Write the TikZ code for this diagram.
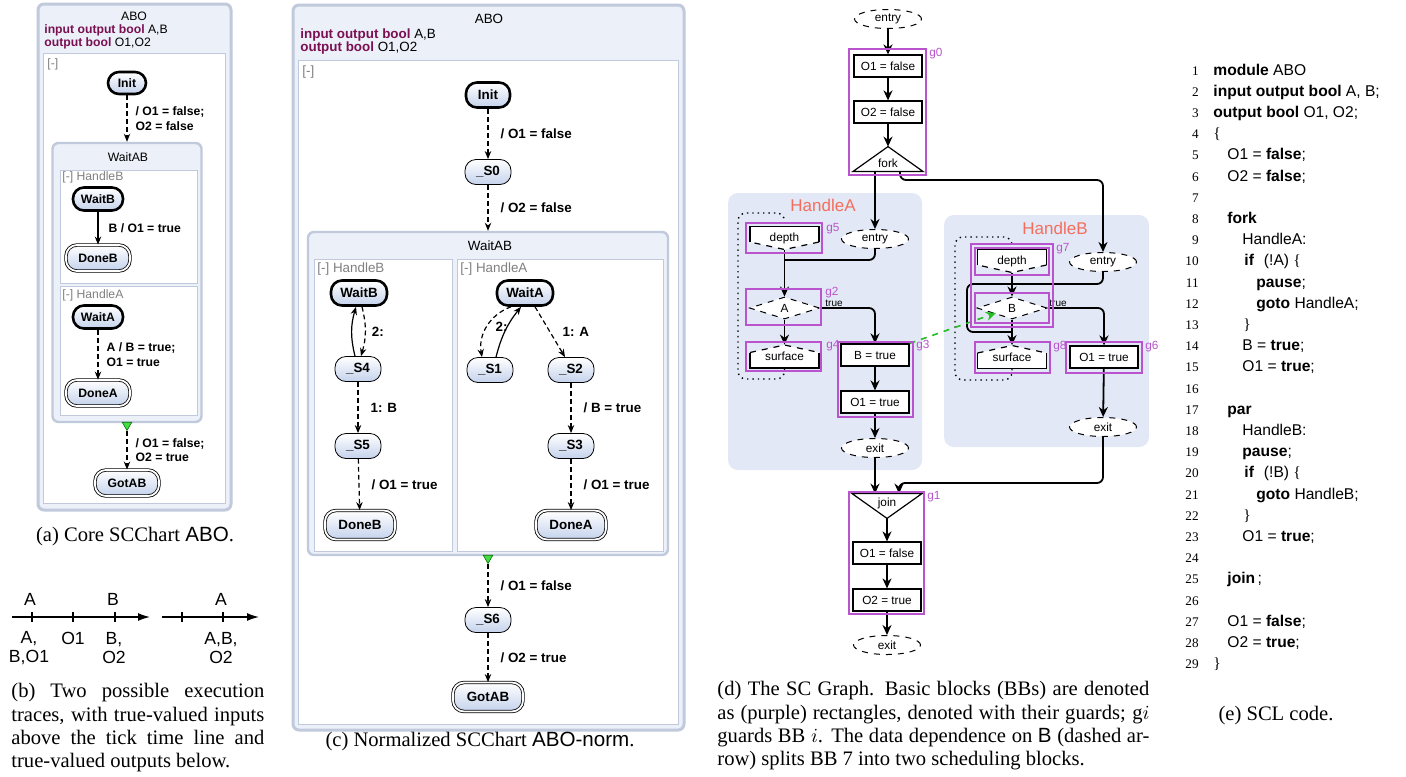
\documentclass[tikz,border=0pt]{standalone}
\usepackage{fontspec}
\setmainfont{Liberation Serif}
\setsansfont{Liberation Sans}
\usepackage{tikz}
\usetikzlibrary{arrows.meta,positioning,calc,shapes.geometric}

\definecolor{stateblue}{RGB}{196,210,236}
\definecolor{chartbg}{RGB}{236,240,248}
\definecolor{chartedge}{RGB}{192,202,220}
\definecolor{keyword}{RGB}{122,16,82}
\definecolor{bbpurple}{RGB}{186,84,206}
\definecolor{threadbg}{RGB}{226,232,245}
\definecolor{threadname}{RGB}{244,110,94}
\definecolor{depgreen}{RGB}{34,190,34}
\definecolor{termgreen}{RGB}{70,220,70}

\newcommand{\chartfont}{\sffamily\fontsize{6.7}{7.6}\selectfont}
\newcommand{\graphfont}{\sffamily\fontsize{5.9}{7}\selectfont}
% depth and surface nodes of the SC graph
\newcommand{\depthnode}[4]{%
  \begin{scope}[shift={(#2,#3)}]
    \fill[white] (-34.5,-11.5) -- (34.5,-11.5) -- (34.5,4) -- (0,11.5) -- (-34.5,4) -- cycle;
    \draw[line width=0.6pt] (-34.5,4) -- (-34.5,-11.5) -- (34.5,-11.5) -- (34.5,4);
    \draw[line width=0.6pt,dashed] (34.5,4) -- (0,11.5) -- (-34.5,4);
  \end{scope}
  \node[surf] (#1) at (#2,#3) {#4};}
\newcommand{\surfacenode}[4]{%
  \begin{scope}[shift={(#2,#3)}]
    \fill[white] (-34.5,-4) -- (0,-11.5) -- (34.5,-4) -- (34.5,11.5) -- (-34.5,11.5) -- cycle;
    \draw[line width=0.6pt] (34.5,-4) -- (34.5,11.5) -- (-34.5,11.5) -- (-34.5,-4);
    \draw[line width=0.6pt,dashed] (-34.5,-4) -- (0,-11.5) -- (34.5,-4);
  \end{scope}
  \node[surf] (#1) at (#2,#3) {#4};}

\begin{document}
\begin{tikzpicture}[x=0.5pt,y=-0.5pt,
    chart/.style={rectangle,rounded corners=3pt,draw=chartedge,line width=1.5pt,fill=chartbg},
    region/.style={rectangle,draw=chartedge,fill=white,line width=0.5pt},
    superstate/.style={rectangle,rounded corners=3pt,draw=chartedge,line width=1.2pt,fill=chartbg},
    state/.style={rectangle,rounded corners=5.5pt,draw,line width=0.4pt,top color=white,bottom color=stateblue,
        minimum width=23pt,minimum height=12.5pt,inner xsep=2pt,inner ysep=1pt,font=\chartfont\bfseries},
    initstate/.style={state,line width=1.3pt},
    finalstate/.style={state,double,double distance=0.9pt,line width=0.4pt},
    trans/.style={-{Stealth[length=4pt,width=3.2pt]},line width=0.6pt,dash pattern=on 2.4pt off 1.6pt},
    strans/.style={-{Stealth[length=4pt,width=3.2pt]},line width=0.6pt},
    tlabel/.style={font=\chartfont\bfseries,align=left,inner sep=1pt},
    ctitle/.style={font=\chartfont,inner sep=0pt},
    decl/.style={font=\chartfont,anchor=west,inner sep=0pt},
    rlabel/.style={font=\chartfont,text=gray,anchor=west,inner sep=0pt},
    termmark/.style={regular polygon,regular polygon sides=3,shape border rotate=180,fill=termgreen,
        draw=green!45!black,line width=0.3pt,inner sep=0pt,minimum size=5.5pt},
    tline/.style={line width=0.7pt,-{Latex[length=6pt,width=4pt]}},
    tick/.style={line width=0.6pt},
    tevent/.style={font=\sffamily\fontsize{8.8}{9.6}\selectfont,align=center,inner sep=0pt},
    thread/.style={fill=threadbg,rounded corners=5pt},
    tname/.style={font=\sffamily\fontsize{8.5}{10}\selectfont,text=threadname,inner sep=0pt},
    bb/.style={draw=bbpurple,line width=0.9pt},
    bblabel/.style={font=\graphfont,text=bbpurple,anchor=west,inner sep=0pt},
    assign/.style={rectangle,draw,line width=0.6pt,fill=white,minimum width=34pt,minimum height=11pt,inner sep=1pt,font=\graphfont},
    term/.style={ellipse,draw,dashed,line width=0.5pt,fill=white,minimum width=33.5pt,minimum height=9.5pt,inner sep=0pt,font=\graphfont},
    cond/.style={diamond,draw,dashed,line width=0.5pt,fill=white,minimum width=35pt,minimum height=11pt,inner sep=0pt,font=\graphfont},
    surf/.style={rectangle,minimum width=34.5pt,minimum height=11.5pt,inner sep=0pt,font=\graphfont},
    forkbox/.style={rectangle,minimum width=34.5pt,minimum height=12pt,inner sep=0pt},
    flow/.style={line width=0.9pt},
    flowarrow/.style={flow,-{Stealth[length=5pt,width=4.5pt]}},
    dep/.style={depgreen,dashed,line width=0.8pt,-{Stealth[length=5pt,width=4.5pt]}},
    dotline/.style={dotted,line width=0.7pt,rounded corners=4pt},
    caption/.style={font=\rmfamily\fontsize{10.3}{11.7}\selectfont,inner sep=0pt},
    codeline/.style={font=\sffamily\fontsize{7.8}{9}\selectfont,anchor=base west,inner sep=0pt},
    lineno/.style={font=\rmfamily\fontsize{6.6}{8}\selectfont,anchor=base east,inner sep=0pt}
  ]
  \useasboundingbox (0,0) rectangle (1406,776);
  \fill[white] (0,0) rectangle (1406,776);

  % (a) core SCChart
  \begin{scope}
    \renewcommand{\chartfont}{\sffamily\fontsize{6.1}{7.1}\selectfont}
    \node[chart,minimum width=96.5pt,minimum height=253pt] (aboA) at (134.5,257) {};
    \node[region,minimum width=91pt,minimum height=225pt] (topA) at (134,278) {};
    \node[ctitle] (nameA) at (134,16) {ABO};
    \node[decl] (declA1) at (44,30) {\textcolor{keyword}{\bfseries input output bool} A,B};
    \node[decl] (declA2) at (44,43) {\textcolor{keyword}{\bfseries output bool} O1,O2};
    \node[rlabel] (regA) at (47,64) {[-]};
    \node[initstate,minimum width=19pt,minimum height=11pt] (initA) at (127,83) {Init};
    \node[superstate,minimum width=74.5pt,minimum height=139.5pt] (waitabA) at (127,282.5) {};
    \node[ctitle] (waitabnameA) at (128,157) {WaitAB};
    \node[region,minimum width=68.5pt,minimum height=56.5pt] (hbA) at (128.5,226.5) {};
    \node[rlabel] (hbnameA) at (62,177) {[-] HandleB};
    \node[initstate,minimum width=25pt,minimum height=11.5pt] (waitbA) at (98,199) {WaitB};
    \node[finalstate,minimum width=32pt,minimum height=13pt] (donebA) at (98,258) {DoneB};
    \node[region,minimum width=68.5pt,minimum height=64.5pt] (haA) at (128.5,350.5) {};
    \node[rlabel] (hanameA) at (62,295) {[-] HandleA};
    \node[initstate,minimum width=25pt,minimum height=11.5pt] (waitaA) at (98,317) {WaitA};
    \node[finalstate,minimum width=32pt,minimum height=13pt] (doneaA) at (98,393) {DoneA};
    \node[termmark] (jA) at (127,425) {};
    \node[finalstate,minimum width=32pt,minimum height=13pt] (gotabA) at (127,483) {GotAB};
    \draw[trans] (initA) -- (waitabA.north) node[tlabel,midway,right=3pt] {/ O1 = false;\\O2 = false};
    \draw[strans] (waitbA) -- (donebA) node[tlabel,midway,right=4pt] {B / O1 = true};
    \draw[trans] (waitaA) -- (doneaA) node[tlabel,midway,right=3pt] {A / B = true;\\O1 = true};
    \draw[trans] (jA) -- (gotabA) node[tlabel,midway,right=3pt] {/ O1 = false;\\O2 = true};
  \end{scope}
  \node[caption] (capA) at (135,536) {(a) Core SCChart \textsf{ABO}.};

  % (b) execution traces
  \coordinate (tr1a) at (12,617);
  \coordinate (tr1b) at (150,617);
  \coordinate (tr2a) at (162,617);
  \coordinate (tr2b) at (259,617);
  \draw[tline] (tr1a) -- (tr1b);
  \draw[tline] (tr2a) -- (tr2b);
  \foreach \x in {32,73,115,182,223}
    \draw[tick] (\x,612) -- (\x,622);
  \node[tevent] (inA1) at (30,599) {A};
  \node[tevent] (inB1) at (113,599) {B};
  \node[tevent] (inA2) at (221,599) {A};
  \node[tevent] (out11) at (29,648) {A,\\B,O1};
  \node[tevent] (out12) at (73,638) {O1};
  \node[tevent] (out13) at (114,648) {B,\\O2};
  \node[tevent] (out21) at (221,648) {A,B,\\O2};
  \node[caption,text width=126.5pt,align=justify,anchor=north west] (capB) at (11,683)
    {(b) Two possible execution\linebreak traces, with true-valued inputs\linebreak above the tick time line and\linebreak true-valued outputs below.};

  % (c) normalized SCChart
  \node[chart,minimum width=195.5pt,minimum height=362.5pt] (aboC) at (488.5,367.5) {};
  \node[region,minimum width=190pt,minimum height=332pt] (topC) at (488,392) {};
  \node[ctitle] (nameC) at (489,19) {ABO};
  \node[decl] (declC1) at (300,35) {\textcolor{keyword}{\bfseries input output bool} A,B};
  \node[decl] (declC2) at (300,48) {\textcolor{keyword}{\bfseries output bool} O1,O2};
  \node[rlabel] (regC) at (302,72) {[-]};
  \node[initstate,minimum width=22pt] (initC) at (488,95) {Init};
  \node[state] (s0C) at (488,172) {\_S0};
  \node[superstate,minimum width=180pt,minimum height=161.5pt] (waitabC) at (488,393.5) {};
  \node[ctitle] (waitabnameC) at (490,246) {WaitAB};
  \node[region,minimum width=69pt,minimum height=146pt] (hbC) at (383,405) {};
  \node[region,minimum width=103pt,minimum height=146pt] (haC) at (560,405) {};
  \node[rlabel] (hbnameC) at (317,269) {[-] HandleB};
  \node[rlabel] (hanameC) at (460,269) {[-] HandleA};
  \node[initstate,minimum width=28pt] (waitbC) at (359,293) {WaitB};
  \node[state] (s4C) at (358,369) {\_S4};
  \node[state] (s5C) at (358,446) {\_S5};
  \node[finalstate,minimum width=35pt,minimum height=14.5pt] (donebC) at (360,525) {DoneB};
  \node[initstate,minimum width=28pt] (waitaC) at (525,293) {WaitA};
  \node[state] (s1C) at (490,370) {\_S1};
  \node[state] (s2C) at (571,370) {\_S2};
  \node[state] (s3C) at (571,446) {\_S3};
  \node[finalstate,minimum width=35pt,minimum height=14.5pt] (doneaC) at (571,525) {DoneA};
  \node[termmark] (jC) at (488,558) {};
  \node[state] (s6C) at (488,620) {\_S6};
  \node[finalstate,minimum width=35pt,minimum height=14.5pt] (gotabC) at (488,697) {GotAB};
  \draw[trans] (initC) -- (s0C) node[tlabel,midway,right=5pt] {/ O1 = false};
  \draw[trans] (s0C) -- (waitabC.north) node[tlabel,midway,right=5pt] {/ O2 = false};
  \draw[trans] ([xshift=1.5pt]waitbC.south) to[bend left=15] node[tlabel,right=2pt] {2:} ([xshift=1.5pt]s4C.north);
  \draw[strans] ([xshift=-1.5pt]s4C.north) to[bend left=15] ([xshift=-1.5pt]waitbC.south);
  \draw[trans] (s4C) -- (s5C) node[tlabel,midway,right=5pt] {1: B};
  \draw[trans] (s5C) -- (donebC) node[tlabel,midway,right=5pt] {/ O1 = true};
  \draw[trans] ([xshift=-7pt]waitaC.south) to[bend right=40] node[tlabel,right=3pt] {2:} ([xshift=-4pt]s1C.north);
  \draw[strans] ([xshift=3pt]s1C.north) to[bend left=12] ([xshift=-2pt]waitaC.south);
  \draw[trans] ([xshift=5pt]waitaC.south) -- ([xshift=-3pt]s2C.north) node[tlabel,midway,right=5pt] {1: A};
  \draw[trans] (s2C) -- (s3C) node[tlabel,midway,right=5pt] {/ B = true};
  \draw[trans] (s3C) -- (doneaC) node[tlabel,midway,right=5pt] {/ O1 = true};
  \draw[trans] (jC) -- (s6C) node[tlabel,midway,right=5pt] {/ O1 = false};
  \draw[trans] (s6C) -- (gotabC) node[tlabel,midway,right=5pt] {/ O2 = true};
  \node[caption] (capC) at (480,741) {(c) Normalized SCChart \textsf{ABO-norm}.};

  % (d) SC graph
  \fill[thread] (728,193) rectangle (922,470);
  \fill[thread] (944,215) rectangle (1149,447);
  \node[tname] (nameHA) at (823,205) {HandleA};
  \node[tname] (nameHB) at (1055,228) {HandleB};
  \node[term] (entryD) at (888,19) {entry};
  \node[assign] (o1fD) at (888,66) {O1 = false};
  \node[assign] (o2fD) at (888,112) {O2 = false};
  \node[forkbox] (forkD) at (888,159) {};
  \draw[line width=0.6pt,fill=white] (forkD.south west) -- (forkD.north) -- (forkD.south east) -- cycle;
  \node[font=\graphfont] (forktext) at (888,163) {fork};
  \node[term] (entryA) at (875,239) {entry};
  \depthnode{depthA}{784.5}{238}{depth}
  \node[cond] (condA) at (784.5,308) {A};
  \node[font=\sffamily\fontsize{5}{6}\selectfont] (trueA) at (834,303) {true};
  \surfacenode{surfaceA}{784.5}{356.5}{surface}
  \node[assign] (btrueA) at (875,355) {B = true};
  \node[assign] (o1tA) at (875,402) {O1 = true};
  \node[term] (exitA) at (875,448) {exit};
  \node[term] (entryB) at (1103,262) {entry};
  \depthnode{depthB}{1012}{261}{depth}
  \node[cond] (condB) at (1012,308) {B};
  \node[font=\sffamily\fontsize{5}{6}\selectfont] (trueB) at (1058,303) {true};
  \surfacenode{surfaceB}{1012}{357}{surface}
  \node[assign] (o1tB) at (1104,357) {O1 = true};
  \node[term] (exitB) at (1103,427) {exit};
  \node[forkbox] (joinD) at (887,506) {};
  \draw[line width=0.6pt,fill=white] (joinD.north west) -- (joinD.north east) -- (joinD.south) -- cycle;
  \node[font=\graphfont] (jointext) at (887,503) {join};
  \node[assign] (o1fJ) at (887,553) {O1 = false};
  \node[assign] (o2tJ) at (887,600) {O2 = true};
  \node[term] (exitD) at (887,645) {exit};

  \coordinate (forkturn) at (900,180);
  \coordinate (mergeA) at (784.5,260);
  \coordinate (turnB1) at (967,284);
  \coordinate (turnB2) at (967,332);
  \coordinate (joinin) at (899,483);
  \coordinate (loopA1) at (738,379);
  \coordinate (loopA2) at (738,213);
  \coordinate (loopB1) at (955,380);
  \coordinate (loopB2) at (955,237);
  \draw[flowarrow] (entryD) -- (o1fD);
  \draw[flowarrow] (o1fD) -- (o2fD);
  \draw[flowarrow] (o2fD) -- (forkD.north);
  \draw[flowarrow] (forkD.south -| entryA) -- (entryA);
  \draw[flowarrow,rounded corners=3pt] (forkD.south -| forkturn) -- (forkturn) -| (entryB);
  \draw[flow,rounded corners=3pt] (entryA.south) |- (mergeA);
  \draw[flowarrow] (depthA) -- (condA);
  \draw[flowarrow,rounded corners=3pt] (condA.east) -| (btrueA);
  \draw[flowarrow] (condA) -- (surfaceA);
  \draw[flowarrow] (btrueA) -- (o1tA);
  \draw[flowarrow] (o1tA) -- (exitA);
  \draw[flowarrow] (exitA) -- (exitA |- joinD.north);
  \draw[flow,rounded corners=3pt] (entryB.south) |- (turnB1) -- (turnB2) -- (turnB2 -| surfaceB);
  \draw[flowarrow] (depthB) -- (condB);
  \draw[flowarrow,rounded corners=3pt] (condB.east) -| (o1tB);
  \draw[flowarrow] (condB) -- (surfaceB);
  \draw[flowarrow] (o1tB) -- (exitB);
  \draw[flowarrow,rounded corners=3pt] (exitB) |- (joinin) -- (joinin |- joinD.north);
  \draw[flowarrow] (joinD.south) -- (o1fJ);
  \draw[flowarrow] (o1fJ) -- (o2tJ);
  \draw[flowarrow] (o2tJ) -- (exitD);
  \draw[dotline] (surfaceA) |- (loopA1) -- (loopA2) -| (depthA);
  \draw[dotline] (surfaceB) |- (loopB1) -- (loopB2) -| (depthB);
  \draw[dep] (btrueA.north east) -- ($(condB)+(-16,5)$);

  % basic blocks and their guards
  \foreach \xa/\ya/\xb/\yb in {849/49/926/175, 746/223/822/253, 746/289/821/325, 746/342/821/371,
      838/342/913/417, 971/244/1053/327, 975/248/1049/275, 975/293/1049/323, 975/342/1050/373,
      1066/342/1142/373, 849/492/924/614}
    \draw[bb] (\xa,\ya) rectangle (\xb,\yb);
  \foreach \g/\gx/\gy in {g0/929/54, g5/826/229, g2/825/293, g4/826/346, g3/916/346,
      g7/1056/249, g8/1053/347, g6/1145/347, g1/927/497}
    \node[bblabel] (\g) at (\gx,\gy) {\g};
  \node[caption,text width=216pt,align=justify,anchor=north west] (capD) at (717,681)
    {(d) The SC Graph. Basic blocks (BBs) are denoted\linebreak as (purple) rectangles, denoted with their guards; g$i$\linebreak guards BB $i$. The data dependence on \textsf{B} (dashed ar-\linebreak row) splits BB 7 into two scheduling blocks.};

  % (e) SCL code
  \foreach \n/\cx/\ctext in {
      1/1213/{\textbf{module} ABO},
      2/1213/{\textbf{input output bool} A, B;},
      3/1213/{\textbf{output bool} O1, O2;},
      4/1213/{{\rmfamily\{}},
      5/1227/{O1 = \textbf{false};},
      6/1227/{O2 = \textbf{false};},
      7/1227/{},
      8/1227/{\textbf{fork}},
      9/1242/{HandleA:},
      10/1244/{\textbf{if}\hspace{5pt}(!A) {\rmfamily\{}},
      11/1256/{\textbf{pause};},
      12/1256/{\textbf{goto} HandleA;},
      13/1243/{{\rmfamily\}}},
      14/1242/{B = \textbf{true};},
      15/1242/{O1 = \textbf{true};},
      16/1227/{},
      17/1227/{\textbf{par}},
      18/1242/{HandleB:},
      19/1242/{\textbf{pause};},
      20/1244/{\textbf{if}\hspace{5pt}(!B) {\rmfamily\{}},
      21/1256/{\textbf{goto} HandleB;},
      22/1243/{{\rmfamily\}}},
      23/1242/{O1 = \textbf{true};},
      24/1227/{},
      25/1227/{\textbf{join}\,;},
      26/1227/{},
      27/1227/{O1 = \textbf{false};},
      28/1227/{O2 = \textbf{true};},
      29/1213/{{\rmfamily\}}}}
  {
    \node[lineno] (num\n) at (1199,{75+21.2*(\n-1)}) {\n};
    \node[codeline] (code\n) at (\cx,{75+21.2*(\n-1)}) {\ctext};
  }
  \node[caption] (capE) at (1276,716) {(e) SCL code.};
\end{tikzpicture}
\end{document}
